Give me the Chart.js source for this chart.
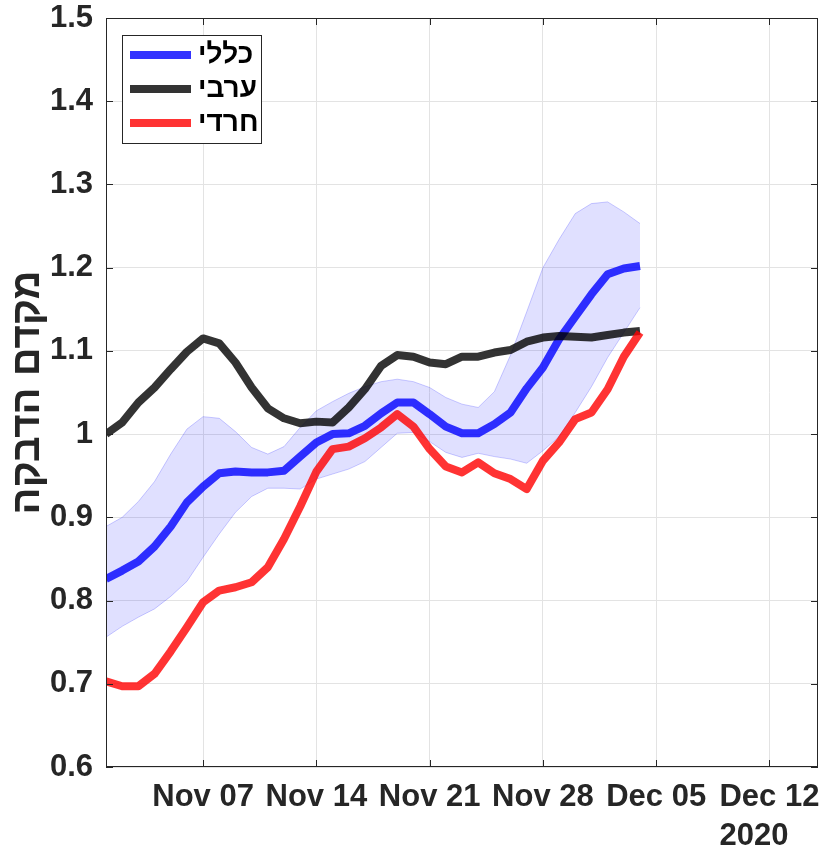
<!DOCTYPE html>
<html>
<head>
<meta charset="utf-8">
<script src="https://cdn.jsdelivr.net/npm/chart.js@4"></script>
<style>
  html, body { margin: 0; padding: 0; background: #fff; }
  #wrap { width: 822px; height: 849px; }
</style>
</head>
<body>
<div id="wrap"><canvas id="chart" width="822" height="849"></canvas></div>
<script>
// --- data ---
const startDate = '2020-11-01';
const dates = [
  '2020-11-01','2020-11-02','2020-11-03','2020-11-04','2020-11-05','2020-11-06','2020-11-07',
  '2020-11-08','2020-11-09','2020-11-10','2020-11-11','2020-11-12','2020-11-13','2020-11-14',
  '2020-11-15','2020-11-16','2020-11-17','2020-11-18','2020-11-19','2020-11-20','2020-11-21',
  '2020-11-22','2020-11-23','2020-11-24','2020-11-25','2020-11-26','2020-11-27','2020-11-28',
  '2020-11-29','2020-11-30','2020-12-01','2020-12-02','2020-12-03','2020-12-04'
];

// כללי (general population)
const generalR = [0.826, 0.836, 0.847, 0.865, 0.889, 0.918, 0.937, 0.953, 0.955, 0.954, 0.954, 0.956,
  0.973, 0.990, 1.000, 1.001, 1.010, 1.025, 1.038, 1.038, 1.024, 1.009, 1.001, 1.001, 1.012, 1.026,
  1.055, 1.080, 1.114, 1.141, 1.168, 1.192, 1.199, 1.202];
const generalUpper = [0.889, 0.900, 0.919, 0.943, 0.976, 1.006, 1.021, 1.019, 1.003, 0.984, 0.976, 0.985,
  1.008, 1.028, 1.039, 1.049, 1.057, 1.063, 1.066, 1.063, 1.056, 1.044, 1.036, 1.032, 1.051, 1.095,
  1.147, 1.200, 1.234, 1.265, 1.277, 1.279, 1.267, 1.253];
const generalLower = [0.756, 0.769, 0.780, 0.790, 0.805, 0.823, 0.852, 0.880, 0.906, 0.925, 0.935, 0.935,
  0.934, 0.946, 0.952, 0.958, 0.967, 0.984, 1.001, 1.002, 0.991, 0.978, 0.972, 0.977, 0.973, 0.970,
  0.965, 0.980, 0.997, 1.026, 1.057, 1.092, 1.122, 1.152];
// ערבי (Arab)
const arabR = [1.000, 1.014, 1.038, 1.056, 1.078, 1.099, 1.115, 1.109, 1.086, 1.056, 1.031, 1.019,
  1.013, 1.015, 1.014, 1.032, 1.054, 1.082, 1.095, 1.093, 1.086, 1.084, 1.093, 1.093, 1.098, 1.101,
  1.111, 1.116, 1.118, 1.117, 1.116, 1.119, 1.122, 1.124];
// חרדי (Haredi)
const harediR = [0.703, 0.697, 0.697, 0.712, 0.739, 0.768, 0.798, 0.812, 0.816, 0.822, 0.840, 0.874,
  0.913, 0.955, 0.982, 0.985, 0.995, 1.008, 1.024, 1.009, 0.982, 0.961, 0.954, 0.966, 0.953, 0.946,
  0.934, 0.968, 0.990, 1.018, 1.026, 1.054, 1.093, 1.122];

const seriesLabels = ['כללי', 'ערבי', 'חרדי'];
const yTitle = 'מקדם הדבקה';
const yTickValues = [0.6, 0.7, 0.8, 0.9, 1.0, 1.1, 1.2, 1.3, 1.4, 1.5];
const yTickLabels = ['0.6', '0.7', '0.8', '0.9', '1', '1.1', '1.2', '1.3', '1.4', '1.5'];
const xTickDates = ['2020-11-07', '2020-11-14', '2020-11-21', '2020-11-28', '2020-12-05', '2020-12-12'];
const xTickLabels = ['Nov 07', 'Nov 14', 'Nov 21', 'Nov 28', 'Dec 05', 'Dec 12'];
const xYearLabel = '2020';
const xMaxDate = '2020-12-15';

// --- helpers ---
const dayOf = d => (Date.parse(d) - Date.parse(startDate)) / 86400000;
const pts = vals => vals.map((v, i) => ({ x: dayOf(dates[i]), y: v }));

const FONT = '"Liberation Sans", Helvetica, Arial, sans-serif';
const INK = '#262626';
const colors = {
  general: 'rgba(0, 0, 255, 0.8)',
  arab: 'rgba(0, 0, 0, 0.8)',
  haredi: 'rgba(255, 0, 0, 0.8)'
};

// MATLAB-ish box, inward ticks, year label and legend
const matlabAxes = {
  id: 'matlabAxes',
  afterDraw(chart) {
    const ctx = chart.ctx;
    const ca = chart.chartArea;
    const xs = chart.scales.x, ys = chart.scales.y;
    const tl = 7;
    ctx.save();
    ctx.strokeStyle = INK;
    ctx.lineWidth = 1;
    ctx.strokeRect(ca.left + 0.5, ca.top + 0.5, ca.right - ca.left - 1, ca.bottom - ca.top - 1);
    ctx.beginPath();
    yTickValues.forEach(v => {
      const y = Math.round(ys.getPixelForValue(v)) + 0.5;
      ctx.moveTo(ca.left, y); ctx.lineTo(ca.left + tl, y);
      ctx.moveTo(ca.right, y); ctx.lineTo(ca.right - tl, y);
    });
    xTickDates.forEach(d => {
      const x = Math.round(xs.getPixelForValue(dayOf(d))) + 0.5;
      ctx.moveTo(x, ca.bottom); ctx.lineTo(x, ca.bottom - tl);
      ctx.moveTo(x, ca.top); ctx.lineTo(x, ca.top + tl);
    });
    ctx.stroke();

    // year under the last tick
    ctx.fillStyle = INK;
    ctx.font = 'bold 31px ' + FONT;
    ctx.textAlign = 'center';
    ctx.textBaseline = 'top';
    ctx.fillText(xYearLabel, ca.right - 64, ca.bottom + 54);

    // legend box
    const bx = ca.left + 16, by = ca.top + 17, bw = 139, bh = 108;
    ctx.fillStyle = '#fff';
    ctx.fillRect(bx, by, bw, bh);
    ctx.strokeStyle = INK;
    ctx.strokeRect(bx + 0.5, by + 0.5, bw, bh);
    const legendColors = [colors.general, colors.arab, colors.haredi];
    ctx.font = 'bold 28px ' + FONT;
    ctx.textAlign = 'left';
    ctx.textBaseline = 'middle';
    seriesLabels.forEach((lab, i) => {
      const y = by + 20 + i * 34;
      ctx.strokeStyle = legendColors[i];
      ctx.lineWidth = 8;
      ctx.beginPath();
      ctx.moveTo(bx + 8, y); ctx.lineTo(bx + 69, y);
      ctx.stroke();
      ctx.fillStyle = '#000';
      ctx.fillText(lab, bx + 76, y);
    });
    ctx.restore();
  }
};

const lineStyle = color => ({
  borderColor: color,
  backgroundColor: color,
  borderWidth: 8,
  pointRadius: 0,
  tension: 0,
  fill: false,
  borderJoinStyle: 'round'
});

new Chart(document.getElementById('chart'), {
  type: 'line',
  data: {
    datasets: [
      {
        label: 'upper',
        data: pts(generalUpper),
        borderColor: 'rgba(0, 0, 255, 0.2)',
        backgroundColor: 'rgba(0, 0, 255, 0.12)',
        borderWidth: 1,
        pointRadius: 0,
        tension: 0,
        fill: '+1',
        order: 3
      },
      {
        label: 'lower',
        data: pts(generalLower),
        borderColor: 'rgba(0, 0, 255, 0.2)',
        borderWidth: 1,
        pointRadius: 0,
        tension: 0,
        fill: false,
        order: 3
      },
      { label: seriesLabels[0], data: pts(generalR), ...lineStyle(colors.general), order: 2 },
      { label: seriesLabels[1], data: pts(arabR), ...lineStyle(colors.arab), order: 1 },
      { label: seriesLabels[2], data: pts(harediR), ...lineStyle(colors.haredi), order: 0 }
    ]
  },
  options: {
    responsive: false,
    animation: false,
    layout: { padding: { top: 18, right: 4, left: 0, bottom: 0 } },
    plugins: { legend: { display: false }, tooltip: { enabled: false } },
    scales: {
      x: {
        type: 'linear',
        min: 0,
        max: dayOf(xMaxDate),
        afterBuildTicks: s => { s.ticks = xTickDates.map(d => ({ value: dayOf(d) })); },
        afterFit: s => { s.height = 82; s.paddingLeft = 0; s.paddingRight = 0; },
        grid: { color: '#e3e3e3', drawTicks: false },
        border: { display: false },
        ticks: {
          autoSkip: false,
          maxRotation: 0,
          padding: 12,
          color: INK,
          font: { family: FONT, size: 31, weight: 'bold' },
          callback: (v, i) => xTickLabels[i]
        }
      },
      y: {
        min: 0.6,
        max: 1.5,
        afterBuildTicks: s => { s.ticks = yTickValues.map(v => ({ value: v })); },
        afterFit: s => { s.width = 106; s.paddingTop = 0; s.paddingBottom = 0; },
        grid: { color: '#e3e3e3', drawTicks: false },
        border: { display: false },
        ticks: {
          padding: 13,
          color: INK,
          font: { family: FONT, size: 31, weight: 'bold' },
          callback: (v, i) => yTickLabels[i]
        },
        title: {
          display: true,
          text: yTitle,
          color: INK,
          font: { family: FONT, size: 40, weight: 'bold' },
          padding: { top: 4, bottom: 0 }
        }
      }
    }
  },
  plugins: [matlabAxes]
});
</script>
</body>
</html>
